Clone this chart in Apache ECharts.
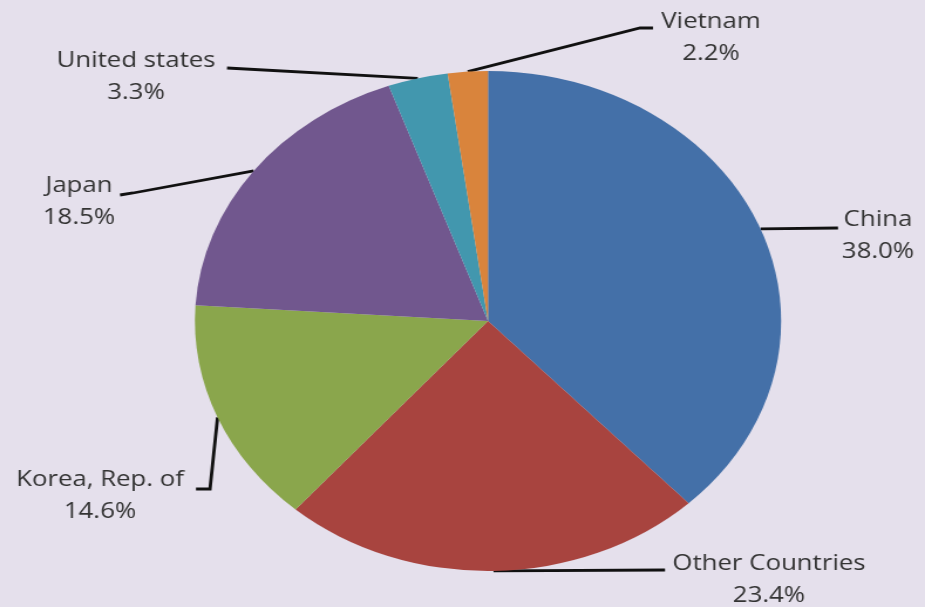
<!DOCTYPE html>
<html><head><meta charset="utf-8">
<script src="https://cdn.jsdelivr.net/npm/echarts@6/dist/echarts.min.js"></script>
<style>
html,body{margin:0;padding:0;background:#E5E0EC;overflow:hidden;width:925px;height:607px}
#chart{width:789px;height:607px;transform:scaleX(1.17237);transform-origin:0 0;}
</style></head><body><div id="chart"></div>
<script>
// ---- data ----
const categories = ['China', 'Other Countries', 'Korea, Rep. of', 'Japan', 'United states', 'Vietnam'];
const shares = [38.0, 23.4, 14.6, 18.5, 3.3, 2.2];

// ---- styling / layout (not data) ----
const sliceColors = ['#4470A8', '#A8443F', '#8AA64C', '#71578E', '#4297AE', '#D9843C'];
const SX = 925 / 789; // the reference pie is stretched horizontally
// label text-block centres and leader-line bends, in screen pixels
const labelPlace = [
  { cx: 878, cy: 236, path: [[838, 228]] },
  { cx: 769, cy: 580, path: [[665, 570]] },
  { cx: 100, cy: 496, path: [[210, 489], [196, 489]] },
  { cx: 79,  cy: 202, path: [[133, 193], [120, 195]] },
  { cx: 136, cy: 77,  path: [[227, 68]] },
  { cx: 711, cy: 38,  path: [[640, 28], [653, 28]] }
];

const chart = echarts.init(document.getElementById('chart'), null, { renderer: 'canvas' });
chart.setOption({
  backgroundColor: '#E5E0EC',
  animation: false,
  series: [{
    type: 'pie',
    center: [488 / SX, 321],
    radius: 250,
    startAngle: 90,
    clockwise: true,
    avoidLabelOverlap: false,
    data: categories.map((c, i) => ({ name: c, value: shares[i], itemStyle: { color: sliceColors[i] } })),
    label: {
      show: true,
      position: 'outside',
      formatter: p => p.name + '\n' + p.value.toFixed(1) + '%',
      fontFamily: 'Open Sans',
      fontSize: 22,
      lineHeight: 32,
      color: '#333333',
      align: 'center'
    },
    labelLine: {
      show: true,
      smooth: false,
      lineStyle: { color: '#111111', width: 2.8 }
    },
    labelLayout: function (params) {
      const lp = labelPlace[params.dataIndex];
      const start = params.labelLinePoints ? params.labelLinePoints[0] : null;
      const pts = [start].concat(lp.path.map(p => [p[0] / SX, p[1]]));
      const out = { x: lp.cx / SX, y: lp.cy, align: 'center', verticalAlign: 'middle' };
      if (start) {
        if (pts.length === 2) pts.splice(1, 0, pts[1]);
        out.labelLinePoints = pts;
      }
      return out;
    },
    itemStyle: { borderWidth: 0 },
    emphasis: { disabled: true }
  }]
});
</script></body></html>
